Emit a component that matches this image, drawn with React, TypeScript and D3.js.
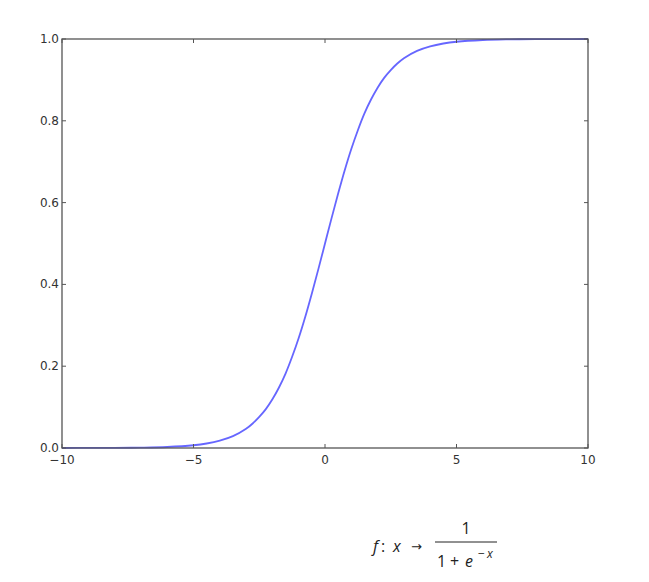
import React from "react";
import * as d3 from "d3";

const xs = [-10, -9, -8, -7, -6, -5, -4.5, -4, -3.5, -3, -2.75, -2.5, -2.25, -2, -1.75, -1.5, -1.25, -1, -0.75, -0.5, -0.25, 0, 0.25, 0.5, 0.75, 1, 1.25, 1.5, 1.75, 2, 2.25, 2.5, 2.75, 3, 3.5, 4, 4.5, 5, 6, 7, 8, 9, 10];
const ys = [0.00005, 0.0001, 0.0003, 0.0009, 0.0025, 0.0067, 0.011, 0.018, 0.029, 0.047, 0.06, 0.076, 0.095, 0.119, 0.148, 0.182, 0.223, 0.269, 0.321, 0.378, 0.438, 0.5, 0.562, 0.622, 0.679, 0.731, 0.777, 0.818, 0.852, 0.881, 0.905, 0.924, 0.94, 0.953, 0.971, 0.982, 0.989, 0.9933, 0.9975, 0.9991, 0.9997, 0.9999, 0.99995];
const xTicks = [-10, -5, 0, 5, 10];
const yTicks = [0, 0.2, 0.4, 0.6, 0.8, 1.0];

export default function App() {
  const W = 649, H = 582;
  const L = 62, R = 588, T = 39, B = 448;
  const x = d3.scaleLinear().domain([-10, 10]).range([L, R]);
  const y = d3.scaleLinear().domain([0, 1]).range([B, T]);
  const pts: [number, number][] = xs.map((v, i) => [v, ys[i]]);
  const line = d3.line<[number, number]>().x(d => x(d[0])).y(d => y(d[1])).curve(d3.curveCatmullRom.alpha(0.5));
  const tick = 4;
  const fontAxis = "'DejaVu Sans', sans-serif";
  const fontMath = "'Open Sans', sans-serif";
  return (
    <svg width={W} height={H} style={{ position: "absolute", left: 0, top: 0, background: "#fff" }}>
      <rect x={L} y={T} width={R - L} height={B - T} fill="#fff" />
      <path d={line(pts) || ""} fill="none" stroke="rgba(0,0,255,0.6)" strokeWidth={1.8} />
      <rect x={L} y={T} width={R - L} height={B - T} fill="none" stroke="#555" strokeWidth={1.3} />
      {xTicks.map(t => (
        <g key={"x" + t}>
          <line x1={x(t)} x2={x(t)} y1={B} y2={B - tick} stroke="#555" />
          <line x1={x(t)} x2={x(t)} y1={T} y2={T + tick} stroke="#555" />
          <text x={x(t)} y={464} textAnchor="middle" fontSize={12} fill="#333" fontFamily={fontAxis}>
            {t < 0 ? "\u2212" + Math.abs(t) : String(t)}
          </text>
        </g>
      ))}
      {yTicks.map(t => (
        <g key={"y" + t}>
          <line x1={L} x2={L + tick} y1={y(t)} y2={y(t)} stroke="#555" />
          <line x1={R} x2={R - tick} y1={y(t)} y2={y(t)} stroke="#555" />
          <text x={59} y={y(t) + 4} textAnchor="end" fontSize={12} fill="#333" fontFamily={fontAxis}>
            {t.toFixed(1)}
          </text>
        </g>
      ))}
      <g fontFamily={fontMath} fill="#222" fontSize={16}>
        <text x={373} y={552} fontStyle="italic">f</text>
        <text x={381} y={552}>:</text>
        <text x={393} y={552} fontStyle="italic">x</text>
        <text x={411} y={551} fontSize={13} fontFamily="'DejaVu Sans', sans-serif">{"\u2192"}</text>
        <text x={466} y={534} textAnchor="middle">1</text>
        <line x1={435} x2={497} y1={542} y2={542} stroke="#222" strokeWidth={1} />
        <text x={437} y={567}>1</text>
        <text x={450} y={567}>+</text>
        <text x={465} y={567} fontStyle="italic">e</text>
        <text x={478} y={558} fontSize={12}>{"\u2212"}</text>
        <text x={487} y={558} fontSize={12} fontStyle="italic">x</text>
      </g>
    </svg>
  );
}
